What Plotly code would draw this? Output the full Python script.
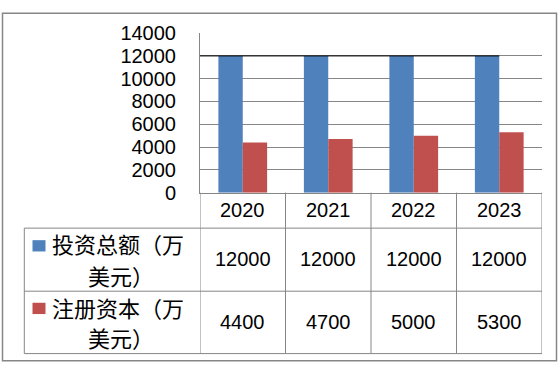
import plotly.graph_objects as go

years = ["2020", "2021", "2022", "2023"]
invest_total = [12000, 12000, 12000, 12000]
registered_capital = [4400, 4700, 5000, 5300]
series_names = [["投资总额（万", "美元）"], ["注册资本（万", "美元）"]]
y_ticks = [0, 2000, 4000, 6000, 8000, 10000, 12000, 14000]

W, H = 559, 374
BLUE = "#4F81BD"
RED = "#C0504D"
GRID = "#868686"
NUM_FONT = "Liberation Sans"
CJK_FONT = "Noto Sans CJK SC"


def px(x):
    return x / W


def py(y):
    return 1 - y / H


# layout geometry (pixels)
PLOT_L, PLOT_R = 200, 542
PLOT_T, PLOT_B = 23.5, 193
ROW_HDR_B = 230.7
ROW1_B = 297.7
ROW2_B = 364
TABLE_L = 24.3

fig = go.Figure()
fig.add_trace(go.Bar(x=years, y=invest_total, marker_color=BLUE, name="投资总额（万美元）",
                     marker_line_width=0))
fig.add_trace(go.Bar(x=years, y=registered_capital, marker_color=RED, name="注册资本（万美元）",
                     marker_line_width=0))

shapes = []
line = dict(color=GRID, width=1)
# vertical table lines at category boundaries
for i in range(len(years) + 1):
    shapes.append(dict(type="line", xref="x", yref="paper", x0=i - 0.5, x1=i - 0.5,
                       y0=py(ROW2_B), y1=py(PLOT_B), line=line))
# horizontal table lines
for yy in [ROW_HDR_B, ROW1_B, ROW2_B]:
    shapes.append(dict(type="line", xref="paper", yref="paper", x0=px(TABLE_L), x1=px(PLOT_R),
                       y0=py(yy), y1=py(yy), line=line))
# left table edge
shapes.append(dict(type="line", xref="paper", yref="paper", x0=px(TABLE_L), x1=px(TABLE_L),
                   y0=py(ROW2_B), y1=py(ROW_HDR_B), line=line))
# black line at total level
shapes.append(dict(type="line", xref="x", yref="y", x0=-0.5, x1=len(years) - 1,
                   y0=invest_total[0], y1=invest_total[-1], line=dict(color="black", width=1),
                   layer="above"))
# legend keys
for (y0, y1), col in zip([(243.5, 255.5), (310, 322)], [BLUE, RED]):
    shapes.append(dict(type="rect", xref="paper", yref="paper", x0=px(32.5), x1=px(45.5),
                       y0=py(y1), y1=py(y0), fillcolor=col, line=dict(width=0)))
# outer border
shapes.append(dict(type="rect", xref="paper", yref="paper", x0=px(2.5), x1=px(556.5),
                   y0=py(371.5), y1=py(2.5), line=dict(color=GRID, width=1.5)))

annotations = []
num_font = dict(family=NUM_FONT, size=20, color="black")
for i, yr in enumerate(years):
    annotations.append(dict(x=i, y=py(211.7), xref="x", yref="paper", text=yr,
                            showarrow=False, font=num_font, xanchor="center", yanchor="middle"))
    annotations.append(dict(x=i, y=py(263.3), xref="x", yref="paper", text=str(invest_total[i]),
                            showarrow=False, font=num_font, xanchor="center", yanchor="middle"))
    annotations.append(dict(x=i, y=py(330), xref="x", yref="paper", text=str(registered_capital[i]),
                            showarrow=False, font=num_font, xanchor="center", yanchor="middle"))

cjk_font = dict(family=CJK_FONT, size=22, color="black")
for (l1, l2), (c1, c2) in zip(series_names, [(247, 280), (314, 346)]):
    annotations.append(dict(x=px(51), y=py(c1), xref="paper", yref="paper", text=l1,
                            showarrow=False, font=cjk_font, xanchor="left", yanchor="middle",
                            borderpad=0))
    annotations.append(dict(x=px(87), y=py(c2), xref="paper", yref="paper", text=l2,
                            showarrow=False, font=cjk_font, xanchor="left", yanchor="middle",
                            borderpad=0))

fig.update_layout(
    width=W, height=H,
    margin=dict(l=0, r=0, t=0, b=0),
    paper_bgcolor="white", plot_bgcolor="white",
    barmode="group", bargap=0.43, bargroupgap=0,
    showlegend=False,
    shapes=shapes, annotations=annotations,
    xaxis=dict(domain=[px(PLOT_L), px(PLOT_R)], range=[-0.5, 3.5], type="category",
               showticklabels=False, showgrid=False, showline=True, linecolor=GRID,
               linewidth=1, ticks="", zeroline=False, fixedrange=True),
    yaxis=dict(domain=[py(PLOT_B), py(PLOT_T)], range=[0, 14000.01], tickvals=y_ticks,
               tickformat="d",
               tickfont=dict(family=NUM_FONT, size=20, color="black"),
               showgrid=True, gridcolor=GRID, gridwidth=1, showline=True, linecolor=GRID,
               linewidth=1, ticks="", zeroline=False, ticklabelstandoff=19, fixedrange=True),
)

fig.write_html("out.html", config={"displayModeBar": False},
               post_script="document.body.style.margin='0';document.body.style.overflow='hidden';")
